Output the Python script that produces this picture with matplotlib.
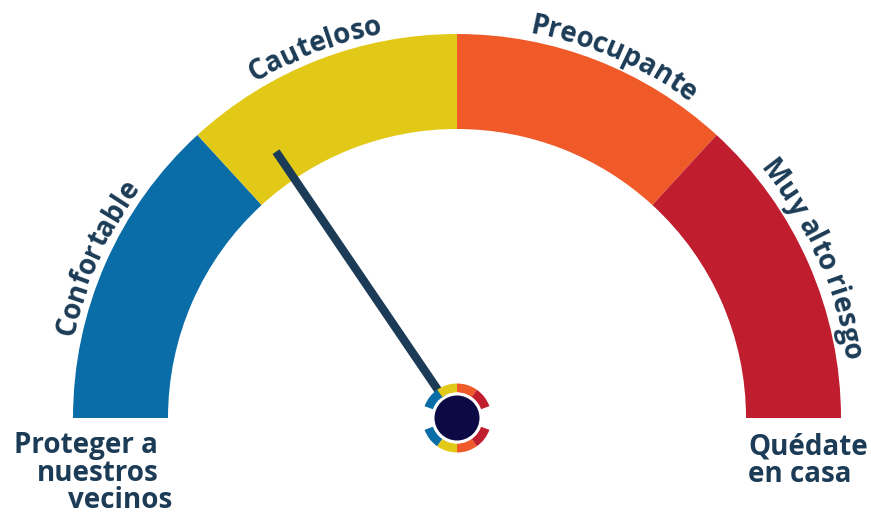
import numpy as np
import matplotlib
matplotlib.use("Agg")
import matplotlib.pyplot as plt
from matplotlib.patches import Wedge, Circle

# gauge data
levels = ["Confortable", "Cauteloso", "Preocupante", "Muy alto riesgo"]
level_colors = ["#0a6da8", "#e2c917", "#f05a28", "#c01e2f"]
level_edges = [0, 1.055, 2, 2.945, 4]  # band limits on a 0..4 scale
needle_value = 1.24
left_label = ["Proteger a", "nuestros", "vecinos"]
right_label = ["Quédate", "en casa"]

navy = "#1b3b56"
W, H = 871, 516
cx, cy = 457, 98
r_out, r_in = 384, 289

fig = plt.figure(figsize=(W / 100, H / 100), dpi=100)
ax = fig.add_axes([0, 0, 1, 1])
ax.set_xlim(0, W)
ax.set_ylim(0, H)
ax.axis("off")


def to_deg(v):
    return 180 - v * 45


for i, c in enumerate(level_colors):
    ax.add_patch(Wedge((cx, cy), r_out, to_deg(level_edges[i + 1]),
                       to_deg(level_edges[i]), width=r_out - r_in,
                       facecolor=c, edgecolor="none"))

# needle
ang = np.radians(to_deg(needle_value))
tip = 322
ax.plot([cx, cx + tip * np.cos(ang)], [cy, cy + tip * np.sin(ang)],
        color=navy, lw=6, solid_capstyle="butt", zorder=3)

# hub ring: small coloured arcs above and below
for i, c in enumerate(level_colors):
    a2 = 160 - i * 35
    a1 = a2 - 35
    ax.add_patch(Wedge((cx, cy), 34.5, a1, a2, width=9, facecolor=c,
                       edgecolor="none", zorder=4))
    ax.add_patch(Wedge((cx, cy), 34.5, -a2, -a1, width=9, facecolor=c,
                       edgecolor="none", zorder=4))
ax.add_patch(Circle((cx, cy), 25.5, facecolor="white", zorder=5))
ax.add_patch(Circle((cx, cy), 22.5, facecolor="#0b0a45", zorder=6))

# curved labels
font = dict(family="Open Sans", weight="bold", size=20, color=navy)
renderer = fig.canvas.get_renderer()


def text_width(s):
    if s == "":
        return 0.0
    t = ax.text(0, 0, s, **font)
    w = t.get_window_extent(renderer).width
    t.remove()
    return w


def curved_text(s, center_deg, radius):
    total = text_width(s)
    start = np.radians(center_deg) + (total / 2) / radius
    for i, ch in enumerate(s):
        if ch == " ":
            continue
        wc = text_width(ch)
        off = text_width(s[:i + 1]) - wc / 2
        a = start - off / radius
        ax.text(cx + radius * np.cos(a), cy + radius * np.sin(a), ch,
                rotation=np.degrees(a) - 90, rotation_mode="anchor",
                ha="center", va="baseline", **font)


label_angles = [156, 111, 66.5, 24]
for lab, a in zip(levels, label_angles):
    curved_text(lab, a, 392)

left_x = [86, 98, 120]
for k, (s, x) in enumerate(zip(left_label, left_x)):
    ax.text(x, 516 - 446 - k * 27.5, s, ha="center", va="center", **font)
for k, s in enumerate(right_label):
    ax.text(748, 516 - 447 - k * 28, s, ha="left", va="center", **font)

fig.savefig("out.png", dpi=100, facecolor="white")
